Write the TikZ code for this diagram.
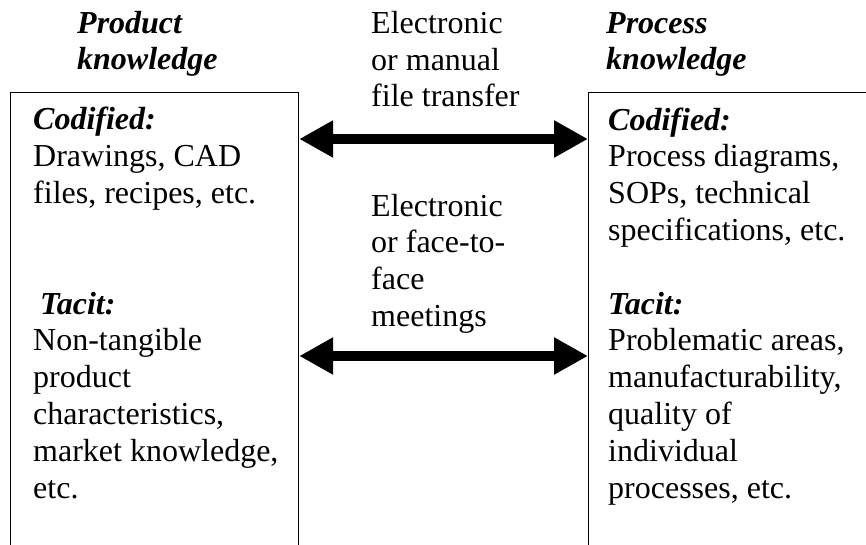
\documentclass[tikz,border=0pt]{standalone}
\usepackage{fontspec}
\setmainfont{Liberation Serif}
\usetikzlibrary{arrows.meta,positioning}
\tikzset{
	thick,
	txt/.style = {
			anchor=base west,
			inner sep=0pt,
			align=left,
			font=\fontsize{32}{36.8}\selectfont,
		},
	heading/.style = {
			txt,
			font=\fontsize{32}{36.8}\selectfont\bfseries\itshape,
		},
	knowbox/.style = {
			draw,
			line width=1.2pt,
			anchor=north west,
			inner sep=0pt,
			minimum width=288pt,
			minimum height=480pt,
		},
	transfer/.style = {
			line width=10pt,
			{Triangle[length=34pt,width=35pt]}-{Triangle[length=34pt,width=35pt]},
		},
}

\begin{document}
\begin{tikzpicture}[x=1pt,y=1pt]
	% Frame of the figure
	\useasboundingbox (0,0) rectangle (866,-545);
	\clip (0,0) rectangle (866,-545);

	% Knowledge boxes (open at the bottom)
	\node[knowbox] (prodbox) at (10,-92) {};
	\node[knowbox, minimum width=300pt] (procbox) at (588,-92) {};

	% Headings (placed at the baseline of their last line)
	\node[heading] (prodhead) at (77,-70) {Product\\knowledge};
	\node[heading] (prochead) at (606,-70) {Process\\knowledge};

	% Channel labels
	\node[txt] (filelabel) at (371,-107) {Electronic\\or manual\\file transfer};
	\node[txt] (meetlabel) at (371,-326.5) {Electronic\\or face-to-\\face\\meetings};

	% Product knowledge
	\node[txt] (prodcod) at (33,-203.5) {\textbf{\textit{Codified:}}\\Drawings, CAD\\files, recipes, etc.};
	\node[txt] (prodtac) at (33,-498) {\hspace{7pt}\textbf{\textit{Tacit:}}\\Non-tangible\\product\\characteristics,\\market knowledge,\\etc.};

	% Process knowledge
	\node[txt] (proccod) at (608,-240.5) {\textbf{\textit{Codified:}}\\Process diagrams,\\SOPs, technical\\specifications, etc.};
	\node[txt] (proctac) at (608,-498) {\textbf{\textit{Tacit:}}\\Problematic areas,\\manufacturability,\\quality of\\individual\\processes, etc.};

	% Transfer arrows between the boxes
	\coordinate (filerow) at (0,-139);
	\coordinate (meetrow) at (0,-356);
	\draw[transfer] (prodbox.east |- filerow) -- (procbox.west |- filerow);
	\draw[transfer] (prodbox.east |- meetrow) -- (procbox.west |- meetrow);
\end{tikzpicture}
\end{document}
